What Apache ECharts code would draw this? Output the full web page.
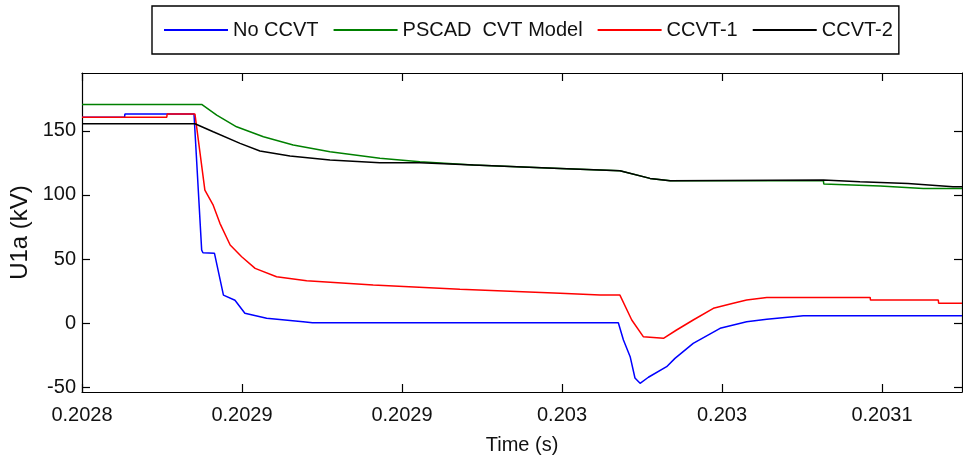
<!DOCTYPE html>
<html>
<head>
<meta charset="utf-8">
<script src="https://cdn.jsdelivr.net/npm/echarts@6/dist/echarts.min.js"></script>
<style>
  html, body { margin: 0; padding: 0; background: #ffffff; }
  #chart { width: 963px; height: 461px; }
</style>
</head>
<body>
<div id="chart"></div>
<script>
// Time samples in microseconds, voltages in kV
const noCcvtTime = [202800, 202813.3, 202813.4, 202835.0, 202837.4, 202837.8, 202841.4, 202844.2, 202847.8, 202850.9, 202857.7, 202869.1, 202872.0, 202967.6, 202969.2, 202971.3, 202972.8, 202974.4, 202977.0, 202982.7, 202985.3, 202991.0, 202999.4, 203007.7, 203014.0, 203025.4, 203075.0];
const noCcvtKv   = [160.5, 160.5, 163.0, 163.0, 57.0, 55.0, 54.5, 22.0, 18.0, 7.8, 3.9, 1.3, 0.5, 0.5, -13.0, -26.0, -42.6, -46.7, -42.0, -33.8, -27.3, -15.6, -3.9, 1.2, 3.1, 5.9, 5.9];

const pscadTime = [202800, 202837.4, 202842.1, 202848.3, 202856.7, 202866.0, 202877.5, 202893.1, 202905.6, 202922.3, 202949.4, 202968.1, 202977.5, 202983.8, 203031.7, 203031.8, 203049.4, 203062.9, 203075.0];
const pscadKv   = [170.5, 170.5, 162.2, 153.1, 145.3, 138.9, 133.6, 128.5, 125.9, 123.3, 120.7, 118.8, 112.9, 111.0, 111.0, 108.5, 106.9, 105.1, 105.0];

const ccvt1Time = [202800, 202826.5, 202826.6, 202835.3, 202838.4, 202841.0, 202843.1, 202846.3, 202849.9, 202854.1, 202860.8, 202870.2, 202891.0, 202918.1, 202949.4, 202961.9, 202968.1, 202971.8, 202975.4, 202981.7, 202985.8, 202991.0, 202997.3, 203003.5, 203007.7, 203014.0, 203046.3, 203046.4, 203067.6, 203067.7, 203075.0];
const ccvt1Kv   = [160.5, 160.5, 163.0, 163.0, 103.8, 92.0, 77.9, 61.0, 51.9, 42.8, 36.3, 33.2, 29.8, 26.5, 23.4, 22.0, 22.0, 2.6, -10.4, -11.7, -5.2, 2.6, 11.7, 15.6, 18.1, 20.2, 20.2, 18.1, 18.1, 15.6, 15.6];

const ccvt2Time = [202800, 202835.3, 202835.8, 202841.0, 202849.4, 202855.6, 202865.0, 202877.5, 202893.1, 202905.6, 202922.3, 202949.4, 202968.1, 202977.5, 202983.8, 203031.7, 203043.1, 203058.1, 203072.2, 203075.0];
const ccvt2Kv   = [155.5, 155.5, 155.8, 149.2, 140.2, 134.2, 130.3, 127.2, 125.1, 125.0, 123.3, 120.7, 118.8, 112.9, 111.0, 111.6, 110.3, 109.0, 106.4, 106.4];

// Axis ticks
const xTickValues = [202800, 202850, 202900, 202950, 203000, 203050];
const xTickLabels = ['0.2028', '0.2029', '0.2029', '0.203', '0.203', '0.2031'];
const yTickValues = [-50, 0, 50, 100, 150];

const seriesNames = ['No CCVT', 'PSCAD  CVT Model', 'CCVT-1', 'CCVT-2'];
const seriesColors = ['#0000ff', '#008000', '#ff0000', '#000000'];

const pairs = (t, v) => t.map((x, i) => [x, v[i]]);
const seriesData = [
  pairs(noCcvtTime, noCcvtKv),
  pairs(pscadTime, pscadKv),
  pairs(ccvt1Time, ccvt1Kv),
  pairs(ccvt2Time, ccvt2Kv)
];

const sans = "'Liberation Sans', Arial, Helvetica, sans-serif";
const X_MIN = 202800, X_MAX = 203075, Y_MIN = -53.5, Y_MAX = 195;

const frameLine = { show: true, onZero: false, lineStyle: { color: '#000', width: 1.2 } };
const innerTick = (vals) => ({ show: true, inside: true, length: 8, customValues: vals, lineStyle: { color: '#000', width: 1.2 } });

const chart = echarts.init(document.getElementById('chart'), null, { renderer: 'canvas' });
chart.setOption({
  animation: false,
  backgroundColor: '#ffffff',
  grid: { left: 82, right: 1, top: 73, bottom: 69, containLabel: false },
  legend: {
    data: seriesNames.map((n) => ({ name: n, icon: 'rect' })),
    left: 152,
    top: 6,
    padding: [14, 6, 14, 12],
    itemWidth: 64,
    itemHeight: 1.8,
    itemGap: 15,
    borderColor: '#000',
    borderWidth: 1.4,
    textStyle: { fontFamily: sans, fontSize: 20, color: '#111', lineHeight: 20 }
  },
  xAxis: [
    {
      type: 'value', min: X_MIN, max: X_MAX, position: 'bottom',
      name: 'Time (s)', nameLocation: 'middle', nameGap: 43,
      nameMoveOverlap: false,
      nameTextStyle: { fontFamily: sans, fontSize: 20, color: '#111' },
      axisLine: frameLine,
      axisTick: innerTick(xTickValues),
      splitLine: { show: false },
      axisLabel: {
        customValues: xTickValues, margin: 13,
        fontFamily: sans, fontSize: 20, color: '#111',
        formatter: (v) => { const i = xTickValues.indexOf(v); return i >= 0 ? xTickLabels[i] : ''; }
      }
    },
    {
      type: 'value', min: X_MIN, max: X_MAX, position: 'top',
      axisLine: frameLine,
      axisTick: innerTick(xTickValues),
      axisLabel: { show: false },
      splitLine: { show: false }
    }
  ],
  yAxis: [
    {
      type: 'value', min: Y_MIN, max: Y_MAX, position: 'left',
      name: 'U1a (kV)', nameLocation: 'middle', nameGap: 50,
      nameMoveOverlap: false,
      nameTextStyle: { fontFamily: sans, fontSize: 24, color: '#111' },
      axisLine: frameLine,
      axisTick: innerTick(yTickValues),
      splitLine: { show: false },
      axisLabel: {
        customValues: yTickValues, margin: 6,
        fontFamily: sans, fontSize: 20, color: '#111'
      }
    },
    {
      type: 'value', min: Y_MIN, max: Y_MAX, position: 'right',
      axisLine: frameLine,
      axisTick: innerTick(yTickValues),
      axisLabel: { show: false },
      splitLine: { show: false }
    }
  ],
  series: seriesNames.map((name, i) => ({
    name: name,
    type: 'line',
    xAxisIndex: 0,
    yAxisIndex: 0,
    data: seriesData[i],
    symbol: 'none',
    clip: true,
    z: 2 + i,
    lineStyle: { color: seriesColors[i], width: 1.5 },
    itemStyle: { color: seriesColors[i] }
  }))
});
</script>
</body>
</html>
